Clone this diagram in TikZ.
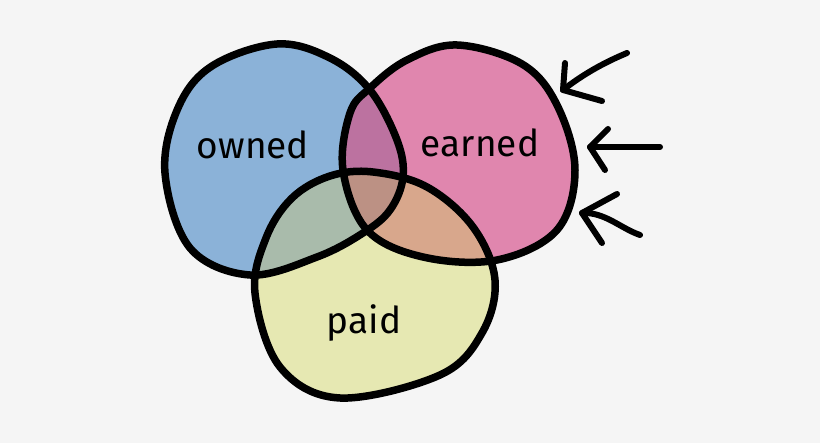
\documentclass[tikz,border=0pt]{standalone}
\usepackage{fontspec}
\setmainfont{Fira Sans}
\definecolor{bg}{HTML}{F5F5F5}
\definecolor{ownedc}{HTML}{8BB2D8}
\definecolor{earnedc}{HTML}{E086AE}
\definecolor{paidc}{HTML}{E6E8B2}
\definecolor{oec}{HTML}{BC72A0}
\definecolor{opc}{HTML}{A9BBAB}
\definecolor{epc}{HTML}{D8A78C}
\definecolor{allc}{HTML}{BC9184}

\begin{document}
\begin{tikzpicture}[x=1pt,y=-1pt,
  outline/.style={line width=7.5pt,line join=round},
  arrowline/.style={line width=6pt,line cap=round,line join=round},
  venntext/.style={font=\fontsize{37}{40}\selectfont}]
\fill[bg] (0,0) rectangle (820,443);
\def\ownedpath{plot[smooth cycle,tension=0.6] coordinates{(277,44) (330,58) (370,90) (397,140) (403,177) (390,210) (363,233) (317,257) (250,275) (190,248) (165,173) (178,108) (212,66)}}
\def\earnedpath{plot[smooth cycle,tension=0.6] coordinates{(457,45) (522,64) (557,105) (575,170) (557,230) (497,260) (423,257) (367,230) (343,170) (350,113) (370,88) (407,60)}}
\def\paidpath{plot[smooth cycle,tension=0.6] coordinates{(373,172) (427,187) (473,227) (495,280) (482,333) (440,375) (340,398) (280,367) (255,293) (266,238) (292,198) (330,176)}}
\fill[ownedc] \ownedpath;
\fill[earnedc] \earnedpath;
\fill[paidc] \paidpath;
\begin{scope}
\clip \ownedpath;
\fill[oec] \earnedpath;
\fill[opc] \paidpath;
\end{scope}
\begin{scope}
\clip \earnedpath;
\fill[epc] \paidpath;
\end{scope}
\begin{scope}
\clip \ownedpath;
\clip \earnedpath;
\fill[allc] \paidpath;
\end{scope}
\draw[outline] \ownedpath;
\draw[outline] \earnedpath;
\draw[outline] \paidpath;
\node[venntext] (owned) at (253,145) {owned};
\node[venntext] (earned) at (480,143) {earned};
\node[venntext] (paid) at (364,323) {paid};
\coordinate (tipa) at (563,90);
\coordinate (taila) at (627,53);
\coordinate (tipb) at (590,147);
\coordinate (tailb) at (660,147);
\coordinate (tipc) at (582,213);
\coordinate (tailc) at (640,235);
\draw[arrowline] (taila) .. controls (603,63) and (582,75) .. (tipa);
\draw[arrowline] (565,63) -- (tipa) -- (602,101);
\draw[arrowline] (tailb) -- (tipb);
\draw[arrowline] (608,129) -- (tipb) -- (605,170);
\draw[arrowline] (tailc) .. controls (620,228) and (605,212) .. (tipc);
\draw[arrowline] (617,194) -- (tipc) -- (602,243);
\end{tikzpicture}
\end{document}
